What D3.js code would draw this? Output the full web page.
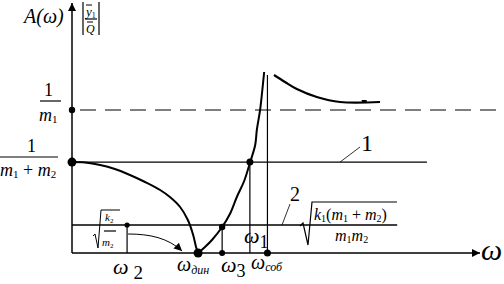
<!DOCTYPE html>
<html>
<head>
<meta charset="utf-8">
<script src="https://cdn.jsdelivr.net/npm/d3@7"></script>
<style>
  body { margin: 0; background: #fff; }
</style>
</head>
<body>
<div id="graphic"></div>
<script>
// response curve, omega in chart units, amplitude in chart units
var leftBranch = [[0, 1.0], [0.32, 0.995], [0.69, 0.968], [1.05, 0.924], [1.42, 0.858], [1.79, 0.781],
  [2.16, 0.693], [2.40, 0.616], [2.65, 0.506], [2.84, 0.363], [2.97, 0.198], [3.04, 0.066], [3.09, 0.0]];
var rightBranch = [[3.09, 0.0], [3.26, 0.066], [3.43, 0.143], [3.68, 0.286], [3.87, 0.429], [4.04, 0.616],
  [4.22, 0.792], [4.36, 0.99], [4.49, 1.188], [4.53, 1.353], [4.61, 1.573], [4.66, 1.771], [4.71, 1.991]];
var upperBranch = [[4.95, 1.958], [5.22, 1.881], [5.51, 1.804], [6.0, 1.716], [6.57, 1.661], [7.55, 1.661]];

// levels: 1/m1, 1/(m1+m2), sqrt(k1(m1+m2)/(m1 m2)) line, sqrt(k2/m2) line
var levelInvM1 = 1.573, levelInvSum = 1.0, level2 = 0.308;
// frequencies
var w2 = 1.35, wDin = 3.09, w3 = 3.68, w1 = 4.36, wSob = 4.79;

var width = 504, height = 284;
var x = d3.scaleLinear().domain([0, 10]).range([72, 480]);
var y = d3.scaleLinear().domain([0, 2.75]).range([253, 3]);

var svg = d3.select("#graphic").append("svg").attr("width", width).attr("height", height);
var defs = svg.append("defs");
defs.append("marker").attr("id", "arr").attr("viewBox", "0 0 10 10").attr("refX", 10).attr("refY", 5)
  .attr("markerWidth", 10).attr("markerHeight", 8).attr("markerUnits", "userSpaceOnUse").attr("orient", "auto")
  .append("path").attr("d", "M0,0L10,5L0,10Z").attr("fill", "#000");

var g = svg.append("g").attr("stroke", "#000").attr("fill", "none");

// axes
g.append("line").attr("x1", x(0)).attr("y1", y(0)).attr("x2", x(0)).attr("y2", 3)
  .attr("stroke-width", 1.5).attr("marker-end", "url(#arr)");
g.append("line").attr("x1", x(0)).attr("y1", y(0)).attr("x2", x(10)).attr("y2", y(0))
  .attr("stroke-width", 1.5).attr("marker-end", "url(#arr)");

// levels
g.append("line").attr("x1", x(0)).attr("x2", 504).attr("y1", y(levelInvM1)).attr("y2", y(levelInvM1))
  .attr("stroke-width", 1.2).attr("stroke-dasharray", "16,9").attr("stroke-dashoffset", -8);
g.append("line").attr("x1", x(0)).attr("x2", x(8.7)).attr("y1", y(levelInvSum)).attr("y2", y(levelInvSum))
  .attr("stroke-width", 1.3);
g.append("line").attr("x1", x(0)).attr("x2", x(7.97)).attr("y1", y(level2)).attr("y2", y(level2))
  .attr("stroke-width", 1.3);

// verticals
g.append("line").attr("x1", x(w2)).attr("x2", x(w2)).attr("y1", y(level2)).attr("y2", y(0)).attr("stroke-width", 1.2);
g.append("line").attr("x1", x(w3)).attr("x2", x(w3)).attr("y1", y(0.286)).attr("y2", y(0)).attr("stroke-width", 1.2);
g.append("line").attr("x1", x(w1)).attr("x2", x(w1)).attr("y1", y(levelInvSum)).attr("y2", y(0)).attr("stroke-width", 1.2);
g.append("line").attr("x1", x(wSob)).attr("x2", x(wSob)).attr("y1", y(1.958)).attr("y2", y(0)).attr("stroke-width", 1.2);

// curves
var line = d3.line().x(function(d) { return x(d[0]); }).y(function(d) { return y(d[1]); }).curve(d3.curveCatmullRom);
g.append("path").attr("d", line(leftBranch)).attr("stroke-width", 2);
g.append("path").attr("d", line(rightBranch)).attr("stroke-width", 2);
g.append("path").attr("d", line(upperBranch)).attr("stroke-width", 2.2);
g.append("path").attr("d", "M" + (x(7.15) - 2) + "," + (y(1.661) - 1) + "h5").attr("stroke-width", 2);

// curved arrow from omega2
g.append("path").attr("d", "M" + (x(w2) + 1) + ",234 C150,234 168,238 " + (x(wDin) - 16) + ",251")
  .attr("stroke-width", 1).attr("marker-end", "url(#arr)");

// leader lines
g.append("line").attr("x1", 340).attr("y1", y(levelInvSum)).attr("x2", 360).attr("y2", 147).attr("stroke-width", 0.8);
g.append("line").attr("x1", 282).attr("y1", y(level2)).attr("x2", 290).attr("y2", 204).attr("stroke-width", 0.8);

// dots
var dots = [[0, levelInvM1, 3.2], [0, levelInvSum, 4.5], [w2, level2, 2.6], [wDin, 0, 4.5],
  [w3, 0.286, 3.2], [w3, 0, 3], [w1, levelInvSum, 3.5], [wSob, 0, 3.5]];
svg.append("g").selectAll("circle").data(dots).enter().append("circle")
  .attr("cx", function(d) { return x(d[0]); }).attr("cy", function(d) { return y(d[1]); })
  .attr("r", function(d) { return d[2]; }).attr("fill", "#000");

// text
var t = svg.append("g").attr("font-family", "Liberation Serif").attr("fill", "#000");
function txt(px, py, s, size, italic) {
  return t.append("text").attr("x", px).attr("y", py).attr("font-size", size)
    .attr("font-style", italic ? "italic" : "normal").text(s);
}
function frac(x1, x2, py) {
  t.append("line").attr("x1", x1).attr("x2", x2).attr("y1", py).attr("y2", py).attr("stroke", "#000").attr("stroke-width", 1.2);
}
function sub(sel, s, size, dy) {
  return sel.append("tspan").attr("font-size", size).attr("dy", dy).attr("font-style", "normal").text(s);
}

// y label
txt(24, 23, "A(ω)", 20, true);
t.append("line").attr("x1", 83).attr("x2", 83).attr("y1", 2).attr("y2", 35).attr("stroke", "#000").attr("stroke-width", 1.2);
t.append("line").attr("x1", 99).attr("x2", 99).attr("y1", 2).attr("y2", 35).attr("stroke", "#000").attr("stroke-width", 1.2);
var yy = txt(86, 16, "y", 13, true);
sub(yy, "1", 8, 2);
t.append("line").attr("x1", 86).attr("x2", 92).attr("y1", 5).attr("y2", 5).attr("stroke", "#000");
frac(85, 97, 19);
txt(86, 33, "Q", 12, true);
t.append("line").attr("x1", 87).attr("x2", 93).attr("y1", 22).attr("y2", 22).attr("stroke", "#000");

// 1/m1
txt(44, 96, "1", 18);
frac(40, 61, 101);
var m1 = txt(39, 121, "m", 18, true);
sub(m1, "1", 11, 2);

// 1/(m1+m2)
txt(27, 152, "1", 18);
frac(0, 58, 157);
var ms = txt(0, 176, "m", 18, true);
sub(ms, "1", 11, 2);
sub(ms, " + ", 18, -2);
ms.append("tspan").text("m");
sub(ms, "2", 11, 2);

// sqrt(k2/m2)
t.append("path").attr("d", "M93,236 L95,234 L98,248 L101,210 L120,210").attr("fill", "none")
  .attr("stroke", "#000").attr("stroke-width", 1);
var k2 = txt(105, 221, "k", 11, true);
sub(k2, "2", 7, 2);
frac(104, 116, 231);
var m2 = txt(102, 246, "m", 11, true);
sub(m2, "2", 7, 2);

// sqrt(k1(m1+m2)/(m1m2))
t.append("path").attr("d", "M300,226 L303,223 L308,245 L312,202 L397,202").attr("fill", "none")
  .attr("stroke", "#000").attr("stroke-width", 1.2);
var kk = txt(314, 220, "k", 16, true);
sub(kk, "1", 10, 2);
sub(kk, "(", 16, -2);
kk.append("tspan").text("m");
sub(kk, "1", 10, 2);
sub(kk, " + ", 16, -2);
kk.append("tspan").text("m");
sub(kk, "2", 10, 2);
sub(kk, ")", 16, -2);
var mm = txt(335, 241, "m", 16, true);
sub(mm, "1", 10, 2);
mm.append("tspan").attr("dy", -2).text("m");
sub(mm, "2", 10, 2);

// curve labels
txt(361, 151, "1", 24);
txt(290, 201, "2", 20);

// omega labels
sub(txt(113, 274, "ω", 22, true), "2", 19, 5).attr("dx", 5);
sub(txt(177, 271, "ω", 20, true), "дин", 12, 3).attr("font-style", "italic");
sub(txt(221, 272, "ω", 22, true), "3", 18, 5);
sub(txt(251, 269, "ω", 20, true), "соб", 12, 2).attr("font-style", "italic");
sub(txt(244, 243, "ω", 22, true), "1", 18, 5);
txt(481, 260, "ω", 30, true);
</script>
</body>
</html>
